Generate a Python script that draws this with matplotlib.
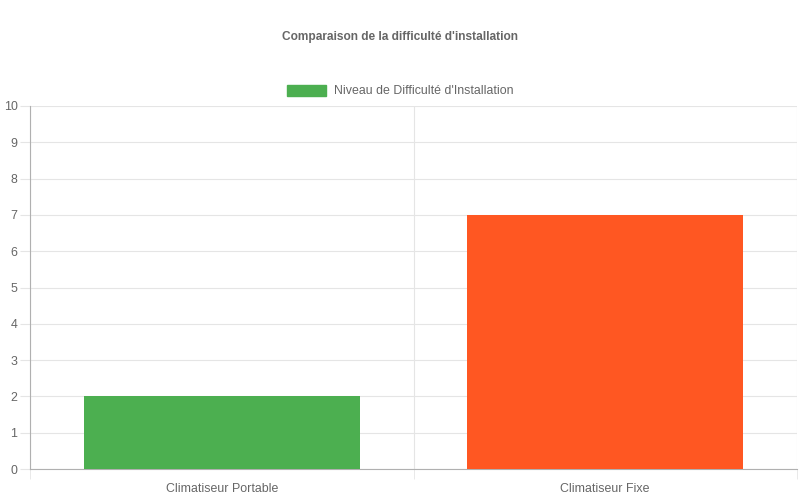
import matplotlib.pyplot as plt
from matplotlib.patches import Patch

categories = ['Climatiseur Portable', 'Climatiseur Fixe']
difficulty = [2, 7]
colors = ['#4CAF50', '#FF5722']
series_label = "Niveau de Difficulté d'Installation"
title = "Comparaison de la difficulté d'installation"

plt.rcParams['font.family'] = ['Liberation Sans', 'DejaVu Sans']
text_color = '#666666'
grid_color = '#e5e5e5'
axis_color = '#b0b0b0'

fig = plt.figure(figsize=(8, 5), dpi=100)
ax = fig.add_axes([30 / 800, 1 - 469 / 500, 767 / 800, 363 / 500])

x = range(len(categories))
ax.bar(x, difficulty, width=0.72, color=colors, zorder=3)

ax.set_xlim(-0.5, len(categories) - 0.5)
ax.set_ylim(0, 10)
ax.set_yticks(range(0, 11))
ax.set_xticks(list(x))
ax.set_xticklabels(categories)
ax.set_xticks([i - 0.5 for i in range(len(categories) + 1)], minor=True)

ax.tick_params(axis='x', which='major', length=0, pad=10, labelsize=8.9, labelcolor=text_color)
ax.tick_params(axis='x', which='minor', length=7, color=grid_color)
ax.tick_params(axis='y', length=7, color=grid_color, pad=2, labelsize=8.9, labelcolor=text_color)
ax.grid(True, axis='y', color=grid_color, linewidth=0.8, zorder=0)
ax.grid(True, axis='x', which='minor', color=grid_color, linewidth=0.8, zorder=0)

for side in ['top', 'right']:
    ax.spines[side].set_visible(False)
ax.spines['left'].set_color(axis_color)
ax.spines['bottom'].set_color(axis_color)

fig.text(0.5, 1 - 37 / 500, title, ha='center', va='center',
         fontsize=8.6, fontweight='bold', color=text_color)

handle = Patch(facecolor=colors[0], edgecolor=colors[0])
fig.legend([handle], [series_label], loc='center', bbox_to_anchor=(0.5, 1 - 91 / 500),
           frameon=False, fontsize=8.9, labelcolor=text_color,
           handlelength=3.2, handleheight=1.0, handletextpad=0.6)

fig.savefig('out.png', dpi=100)
